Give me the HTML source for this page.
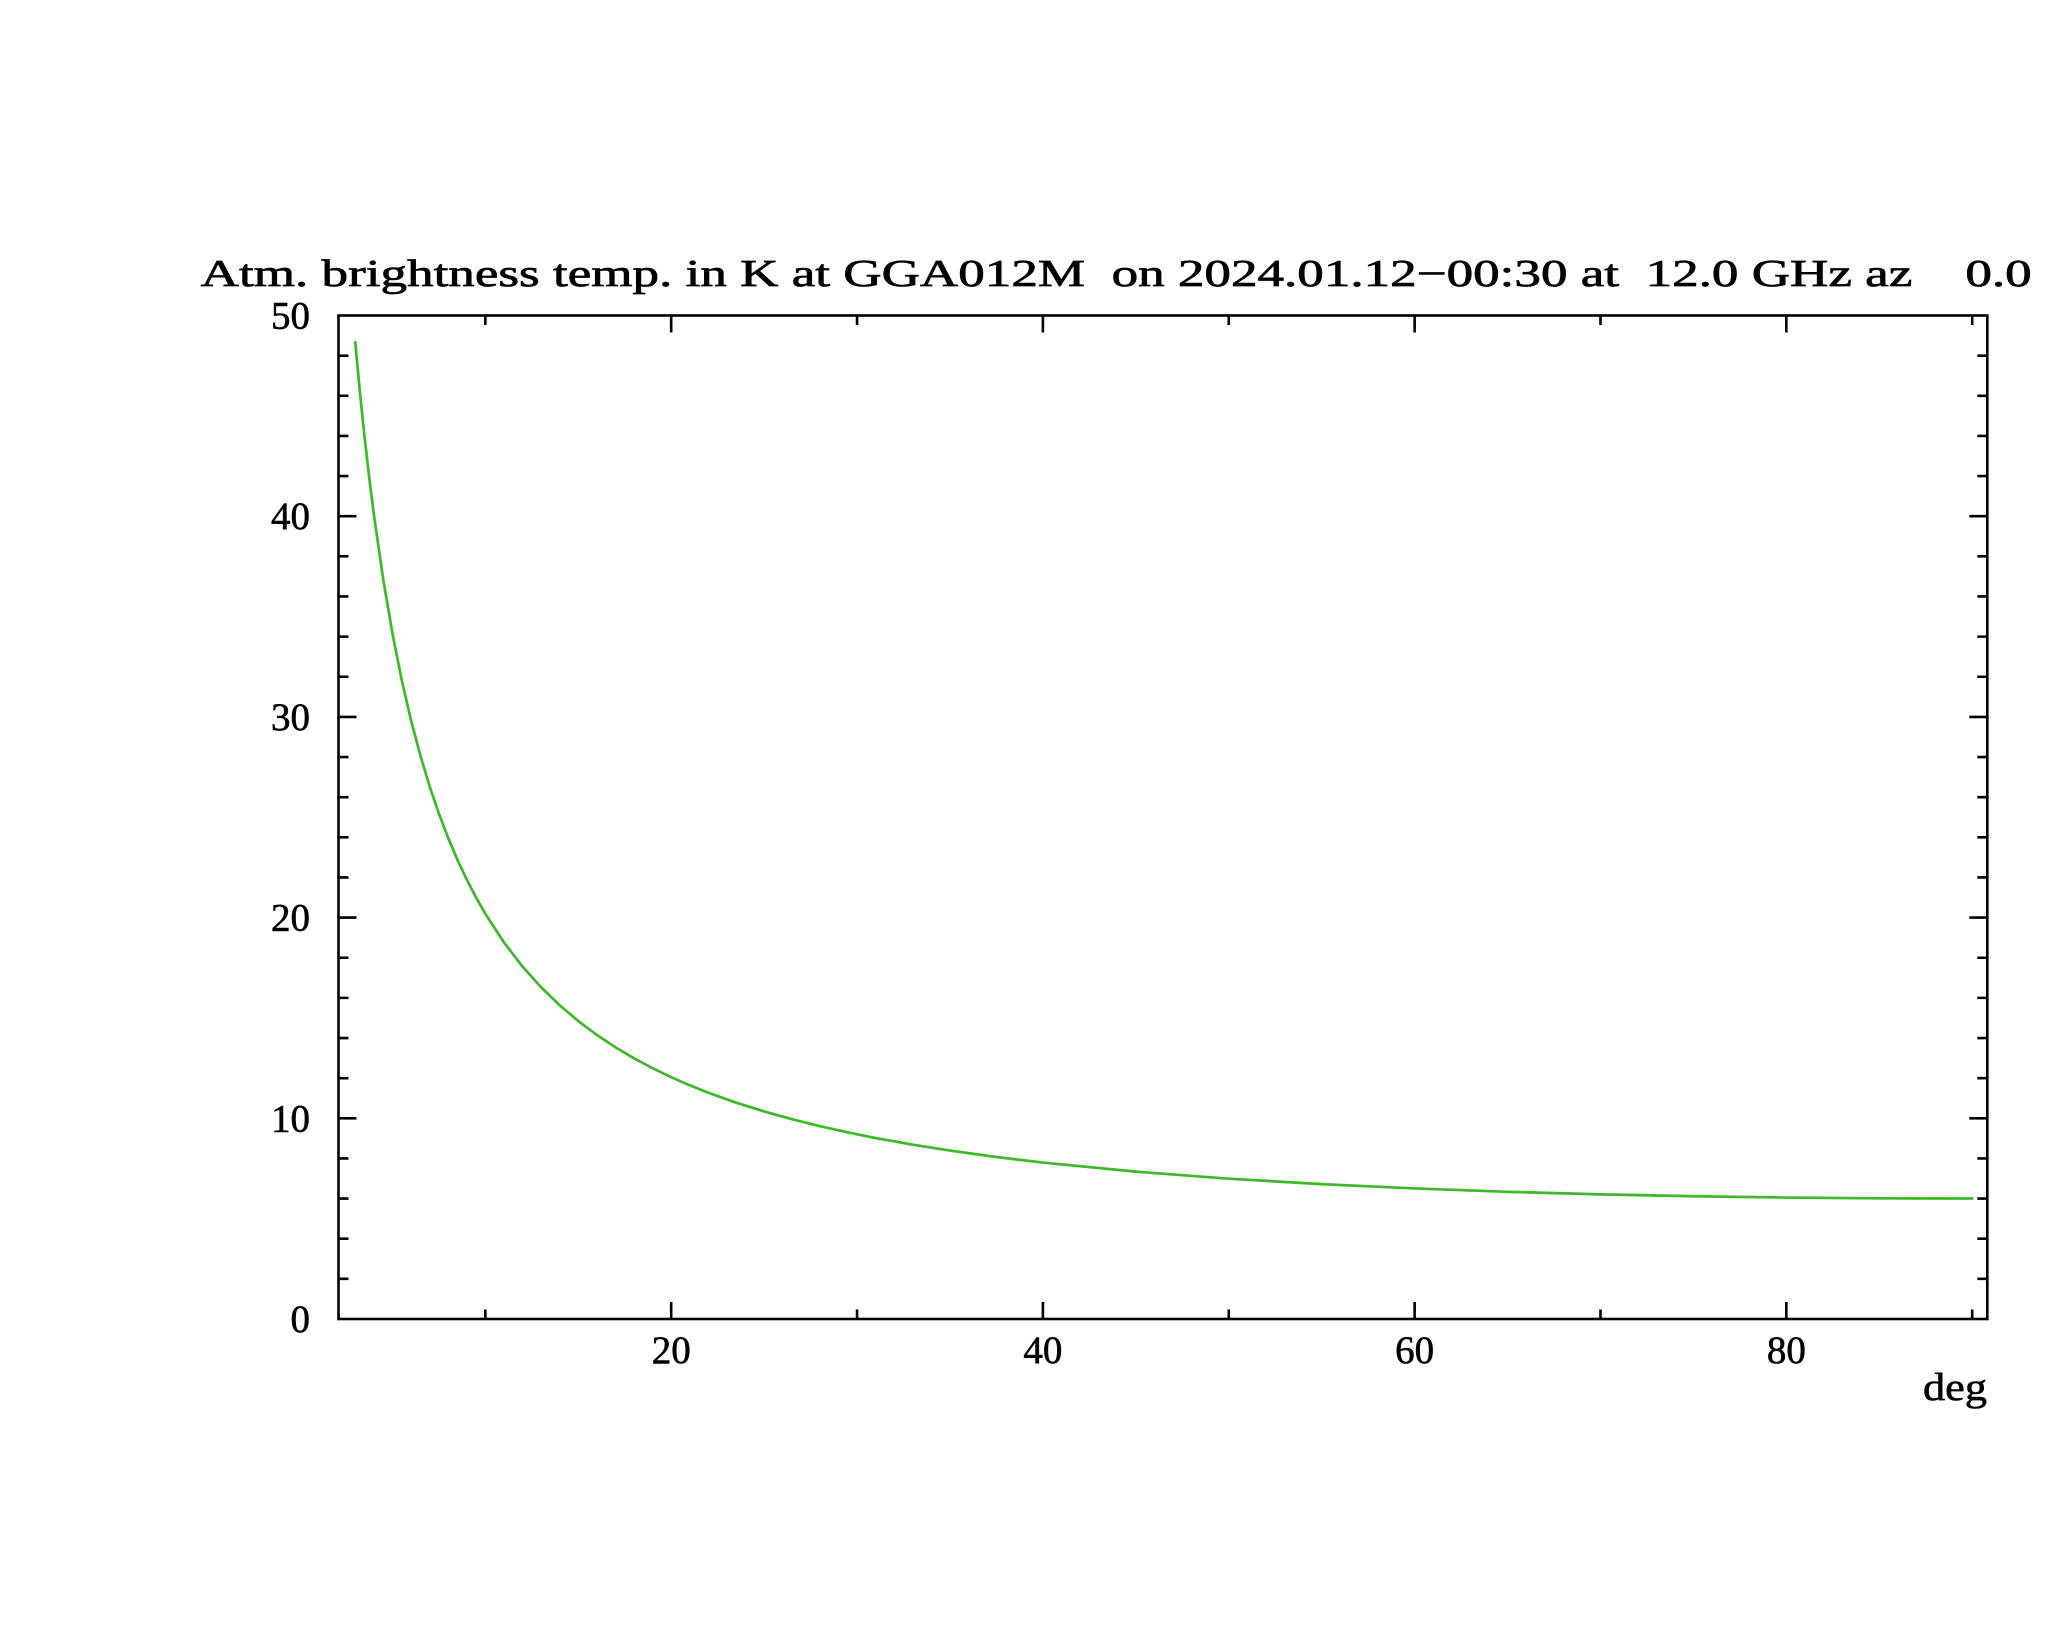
<!DOCTYPE html>
<html>
<head>
<meta charset="utf-8">
<style>
  html, body { margin: 0; padding: 0; background: #ffffff; }
  svg { display: block; }
  text { font-family: "Liberation Serif", "DejaVu Serif", serif; fill: #000; }
</style>
</head>
<body>
<svg width="2048" height="1635" viewBox="0 0 2048 1635" xmlns="http://www.w3.org/2000/svg">
  <rect x="0" y="0" width="2048" height="1635" fill="#ffffff"/>

  <!-- Title -->
  <text x="200.7" y="286" font-size="38" stroke="#000" stroke-width="0.7" xml:space="preserve" style="white-space:pre" textLength="1831" lengthAdjust="spacingAndGlyphs">Atm. brightness temp. in K at GGA012M  on 2024.01.12−00:30 at  12.0 GHz az    0.0</text>

  <!-- Curve -->
  <polyline fill="none" stroke="#3db82a" stroke-width="2.7" stroke-linejoin="round" stroke-linecap="round"
    points="355.23,342.13 359.87,391.77 364.52,436.60 369.17,477.18 373.81,514.11 383.11,578.72 392.40,633.27 401.69,679.87 410.99,720.15 420.28,755.27 429.57,786.16 438.86,813.56 448.16,837.92 457.45,859.82 466.74,879.55 476.04,897.45 485.33,913.73 503.92,942.29 522.50,966.51 541.09,987.24 559.67,1005.27 578.26,1021.02 596.85,1034.93 615.43,1047.27 634.02,1058.29 652.60,1068.21 671.19,1077.18 689.78,1085.30 708.36,1092.71 736.24,1102.67 764.12,1111.42 792.00,1119.22 819.88,1126.17 857.05,1134.36 875.64,1138.03 912.81,1144.71 949.98,1150.59 996.44,1157.02 1042.91,1162.55 1135.84,1171.65 1228.77,1178.67 1321.70,1184.15 1414.63,1188.45 1507.56,1191.80 1600.49,1194.35 1693.42,1196.23 1786.35,1197.54 1879.28,1198.30 1972.21,1198.52"/>

  <!-- Frame -->
  <rect x="338.5" y="315.5" width="1648.8" height="1003.5" fill="none" stroke="#000" stroke-width="2.6"/>

  <!-- Ticks -->
  <g stroke="#000" stroke-width="2.6" fill="none">
    <path d="
      M338.5,1278.86 h10 M338.5,1238.72 h10 M338.5,1198.58 h10 M338.5,1158.44 h10 M338.5,1118.30 h18
      M338.5,1078.16 h10 M338.5,1038.02 h10 M338.5,997.88 h10 M338.5,957.74 h10 M338.5,917.60 h18
      M338.5,877.46 h10 M338.5,837.32 h10 M338.5,797.18 h10 M338.5,757.04 h10 M338.5,716.90 h18
      M338.5,676.76 h10 M338.5,636.62 h10 M338.5,596.48 h10 M338.5,556.34 h10 M338.5,516.20 h18
      M338.5,476.06 h10 M338.5,435.92 h10 M338.5,395.78 h10 M338.5,355.64 h10
    "/>
    <path d="
      M1987.3,1278.86 h-10 M1987.3,1238.72 h-10 M1987.3,1198.58 h-10 M1987.3,1158.44 h-10 M1987.3,1118.30 h-18
      M1987.3,1078.16 h-10 M1987.3,1038.02 h-10 M1987.3,997.88 h-10 M1987.3,957.74 h-10 M1987.3,917.60 h-18
      M1987.3,877.46 h-10 M1987.3,837.32 h-10 M1987.3,797.18 h-10 M1987.3,757.04 h-10 M1987.3,716.90 h-18
      M1987.3,676.76 h-10 M1987.3,636.62 h-10 M1987.3,596.48 h-10 M1987.3,556.34 h-10 M1987.3,516.20 h-18
      M1987.3,476.06 h-10 M1987.3,435.92 h-10 M1987.3,395.78 h-10 M1987.3,355.64 h-10
    "/>
    <path d="
      M485.33,1319 v-9.5 M671.19,1319 v-17 M857.05,1319 v-9.5 M1042.91,1319 v-17 M1228.77,1319 v-9.5
      M1414.63,1319 v-17 M1600.49,1319 v-9.5 M1786.35,1319 v-17 M1972.21,1319 v-9.5
    "/>
    <path d="
      M485.33,315.5 v9.5 M671.19,315.5 v17 M857.05,315.5 v9.5 M1042.91,315.5 v17 M1228.77,315.5 v9.5
      M1414.63,315.5 v17 M1600.49,315.5 v9.5 M1786.35,315.5 v17 M1972.21,315.5 v9.5
    "/>
  </g>

  <!-- Y tick labels -->
  <g font-size="39" text-anchor="end" stroke="#000" stroke-width="0.6">
    <text x="310" y="1332">0</text>
    <text x="310" y="1131.3">10</text>
    <text x="310" y="930.6">20</text>
    <text x="310" y="729.9">30</text>
    <text x="310" y="529.2">40</text>
    <text x="310" y="328.5">50</text>
  </g>

  <!-- X tick labels -->
  <g font-size="39" text-anchor="middle" stroke="#000" stroke-width="0.6">
    <text x="671.19" y="1363">20</text>
    <text x="1042.91" y="1363">40</text>
    <text x="1414.63" y="1363">60</text>
    <text x="1786.35" y="1363">80</text>
  </g>

  <!-- X axis unit -->
  <text x="1987" y="1400" font-size="39" text-anchor="end" stroke="#000" stroke-width="0.6" textLength="64" lengthAdjust="spacingAndGlyphs">deg</text>
</svg>
</body>
</html>
